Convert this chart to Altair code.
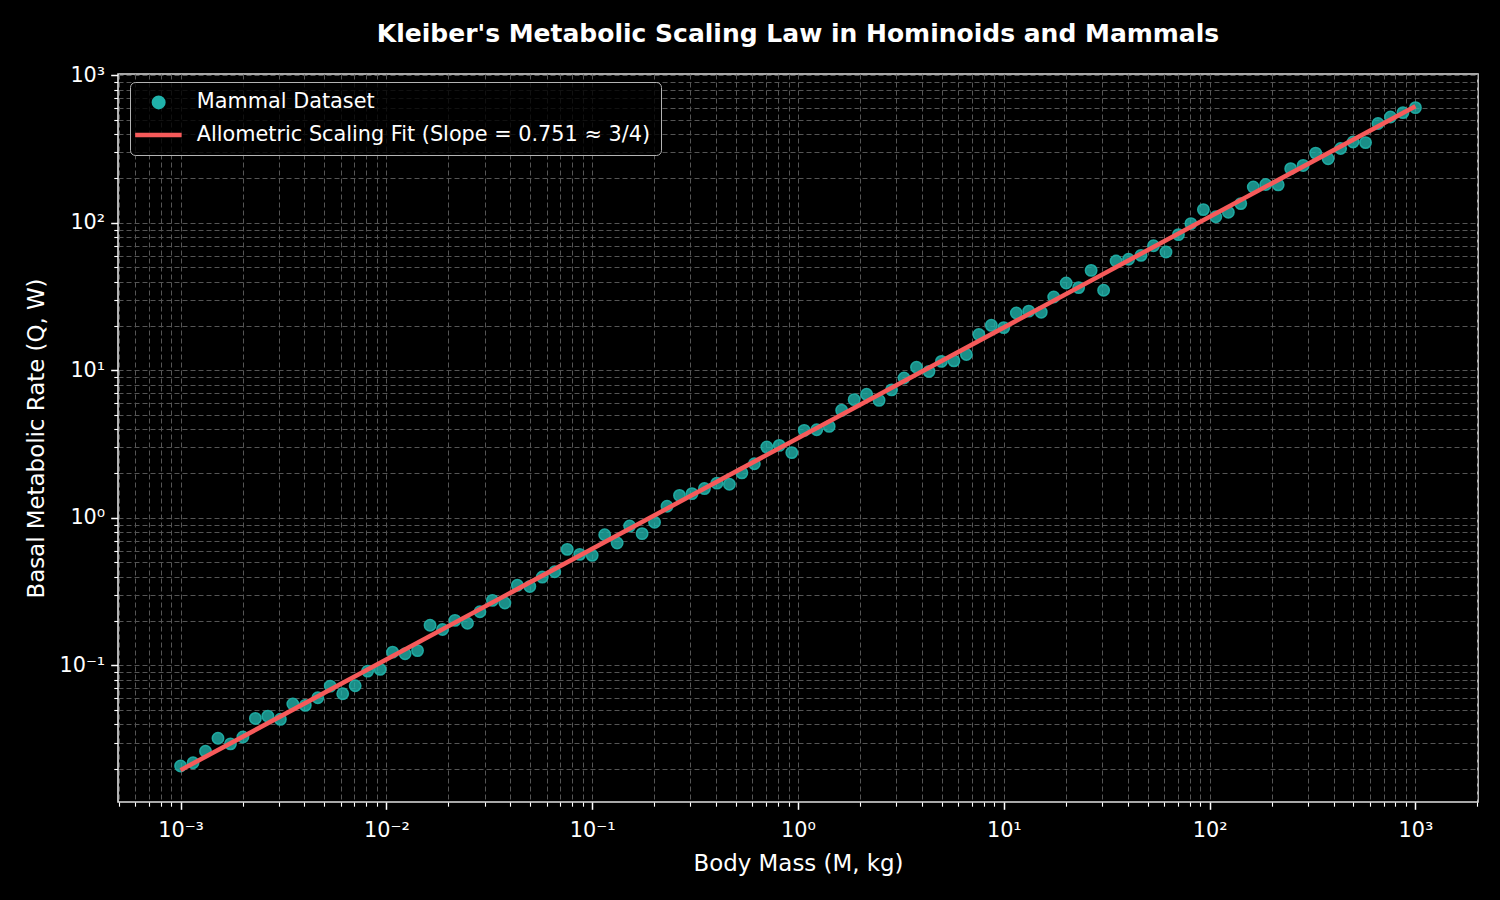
import altair as alt
import pandas as pd

# ---- data ----
mass_kg = [
    0.001, 0.00115, 0.001322, 0.00152, 0.001748, 0.002009, 0.00231, 0.002656, 0.003054, 0.003511,
    0.004037, 0.004642, 0.005337, 0.006136, 0.007055, 0.008111, 0.009326, 0.01072, 0.01233, 0.01417,
    0.0163, 0.01874, 0.02154, 0.02477, 0.02848, 0.03275, 0.03765, 0.04329, 0.04977, 0.05722,
    0.06579, 0.07565, 0.08697,
    0.1, 0.115, 0.1322, 0.152, 0.1748, 0.2009, 0.231, 0.2656, 0.3054, 0.3511,
    0.4037, 0.4642, 0.5337, 0.6136, 0.7055, 0.8111, 0.9326, 1.072, 1.233, 1.417,
    1.63, 1.874, 2.154, 2.477, 2.848, 3.275, 3.765, 4.329, 4.977, 5.722,
    6.579, 7.565, 8.697,
    10.0, 11.5, 13.22, 15.2, 17.48, 20.09, 23.1, 26.56, 30.54, 35.11,
    40.37, 46.42, 53.37, 61.36, 70.55, 81.11, 93.26, 107.2, 123.3, 141.7,
    163.0, 187.4, 215.4, 247.7, 284.8, 327.5, 376.5, 432.9, 497.7, 572.2,
    657.9, 756.5, 869.7,
    1000.0,
]
metabolic_rate_w = [
    0.0208, 0.0219, 0.0262, 0.0321, 0.0294, 0.0327, 0.0437, 0.0453, 0.0431, 0.0547,
    0.0536, 0.0604, 0.0724, 0.0643, 0.0728, 0.0915, 0.0940, 0.123, 0.120, 0.126,
    0.187, 0.175, 0.202, 0.193, 0.231, 0.276, 0.265, 0.349, 0.343, 0.397,
    0.431, 0.612, 0.566, 0.557, 0.769, 0.675, 0.880, 0.782, 0.935, 1.20,
    1.42, 1.46, 1.58, 1.72, 1.69, 2.02, 2.33, 3.02, 3.10, 2.77,
    3.92, 3.96, 4.17, 5.36, 6.33, 6.88, 6.26, 7.38, 8.87, 10.5,
    9.85, 11.5, 11.6, 12.8, 17.5, 20.2, 19.5, 24.5, 25.2, 24.8,
    31.4, 39.1, 36.4, 47.6, 34.9, 55.1, 56.6, 60.2, 70.0, 63.4,
    83.2, 98.8, 123.0, 110.0, 118.0, 135.0, 175.0, 182.0, 181.0, 233.0,
    245.0, 297.0, 272.0, 319.0, 353.0, 350.0, 471.0, 522.0, 559.0, 604.0,
]
fit_mass_kg = [0.001, 1000.0]
fit_rate_w = [0.0195, 618.0]

series_names = ["Mammal Dataset", "Allometric Scaling Fit (Slope = 0.751 \u2248 3/4)"]
series_colors = ["#20B2AA", "#F65A5A"]

x_major_ticks = [0.001, 0.01, 0.1, 1, 10, 100, 1000]
y_major_ticks = [0.1, 1, 10, 100, 1000]
minor_multipliers = [2, 3, 4, 5, 6, 7, 8, 9]

X_DOMAIN = [10 ** -3.304, 10 ** 3.304]
Y_DOMAIN = [10 ** -1.926, 10 ** 3.009]

x_minor_ticks = [m * 10.0 ** e for e in range(-4, 4) for m in minor_multipliers
                 if X_DOMAIN[0] < m * 10.0 ** e < X_DOMAIN[1]]
y_minor_ticks = [m * 10.0 ** e for e in range(-2, 3) for m in minor_multipliers
                 if Y_DOMAIN[0] < m * 10.0 ** e < Y_DOMAIN[1]]

df_pts = pd.DataFrame({"mass": mass_kg, "rate": metabolic_rate_w, "series": series_names[0]})
df_fit = pd.DataFrame({"mass": fit_mass_kg, "rate": fit_rate_w, "series": series_names[1]})

FONT = "DejaVu Sans"
GRID = dict(grid=True, gridColor="#555555", gridDash=[5, 3], gridWidth=1, gridOpacity=1)

sup_expr = ("'10' + replace(replace(replace(replace(replace(toString(round(log(datum.value)/LN10)),"
            " '-', '\u207b'), '0', '\u2070'), '1', '\u00b9'), '2', '\u00b2'), '3', '\u00b3')")

x_major_axis = alt.Axis(
    orient="bottom", values=x_major_ticks, labelExpr=sup_expr, labelFontSize=20.8,
    labelColor="white", labelFont=FONT, labelPadding=11, labelFlush=False, labelOverlap=False,
    tickSize=7.3, tickColor="white", tickWidth=1.5, domain=False,
    title="Body Mass (M, kg)", titleFontSize=22.9, titleFont=FONT, titleColor="white",
    titleFontWeight="normal", titleX=680, titleY=68, titleBaseline="alphabetic", **GRID,
)
y_major_axis = alt.Axis(
    orient="left", values=y_major_ticks, labelExpr=sup_expr, labelFontSize=20.8,
    labelColor="white", labelFont=FONT, labelPadding=6, labelFlush=False, labelOverlap=False,
    tickSize=7.3, tickColor="white", tickWidth=1.5, domain=False,
    title="Basal Metabolic Rate (Q, W)", titleFontSize=22.9, titleFont=FONT, titleColor="white",
    titleFontWeight="normal", titleX=-75, titleY=364, titleAngle=270, titleBaseline="alphabetic",
    **GRID,
)
x_minor_axis = alt.Axis(
    orient="bottom", values=x_minor_ticks, labels=False, tickSize=4.2, tickColor="white",
    tickWidth=1.1, domain=False, **GRID,
)
y_minor_axis = alt.Axis(
    orient="left", values=y_minor_ticks, labels=False, tickSize=4.2, tickColor="white",
    tickWidth=1.1, domain=False, **GRID,
)

xs = alt.Scale(type="log", domain=X_DOMAIN, nice=False)
ys = alt.Scale(type="log", domain=Y_DOMAIN, nice=False)
cs = alt.Scale(domain=series_names, range=series_colors)
line_path = "M-3.05,0H6.25"
circle_path = "M0.7,0A0.95,0.95,0,1,0,2.6,0A0.95,0.95,0,1,0,0.7,0Z"
ss = alt.Scale(domain=series_names, range=[circle_path, line_path])

leg = alt.Legend(
    title=None, orient="none", legendX=12, legendY=8, direction="vertical",
    fillColor="rgba(0,0,0,0.8)", strokeColor="#b3b3b3", cornerRadius=5, padding=10,
    symbolSize=100, symbolStrokeWidth=4.5, symbolOpacity=1,
    labelFontSize=20.8, labelColor="white", labelFont=FONT, labelOffset=36, labelLimit=800,
    rowPadding=6.6,
)

points = alt.Chart(df_pts).mark_point(
    shape="circle", filled=True, size=130, opacity=1, fillOpacity=0.8, strokeOpacity=0.9,
    strokeWidth=1.5,
).encode(
    x=alt.X("mass:Q", scale=xs, axis=x_major_axis),
    y=alt.Y("rate:Q", scale=ys, axis=y_major_axis),
    fill=alt.Fill("series:N", scale=cs, legend=leg),
    stroke=alt.Stroke("series:N", scale=cs, legend=leg),
)

fit = alt.Chart(df_fit).mark_line(strokeWidth=4.5).encode(
    x=alt.X("mass:Q", scale=xs, axis=x_minor_axis, title=None),
    y=alt.Y("rate:Q", scale=ys, axis=y_minor_axis, title=None),
    stroke=alt.Stroke("series:N", scale=cs, legend=leg),
)

keys = alt.Chart(df_fit).transform_filter("false").mark_point(opacity=1).encode(
    x=alt.X("mass:Q", scale=xs, axis=None),
    y=alt.Y("rate:Q", scale=ys, axis=None),
    shape=alt.Shape("series:N", scale=ss, legend=leg),
)

chart = alt.layer(points, fit, keys).resolve_axis(
    x="independent", y="independent"
).properties(
    width=1360, height=728,
    autosize=alt.AutoSizeParams(type="none"),
    padding={"left": 118, "top": 74, "right": 22, "bottom": 98},
    title=alt.Title(
        "Kleiber's Metabolic Scaling Law in Hominoids and Mammals",
        fontSize=25, fontWeight="bold", color="white", font=FONT, anchor="middle", offset=17,
    ),
).configure(
    background="#000000", font=FONT,
).configure_view(
    stroke="#e0e0e0", strokeWidth=1.6, fill="#000000",
)

chart.save("out.html", embed_options={"renderer": "svg", "actions": False})
